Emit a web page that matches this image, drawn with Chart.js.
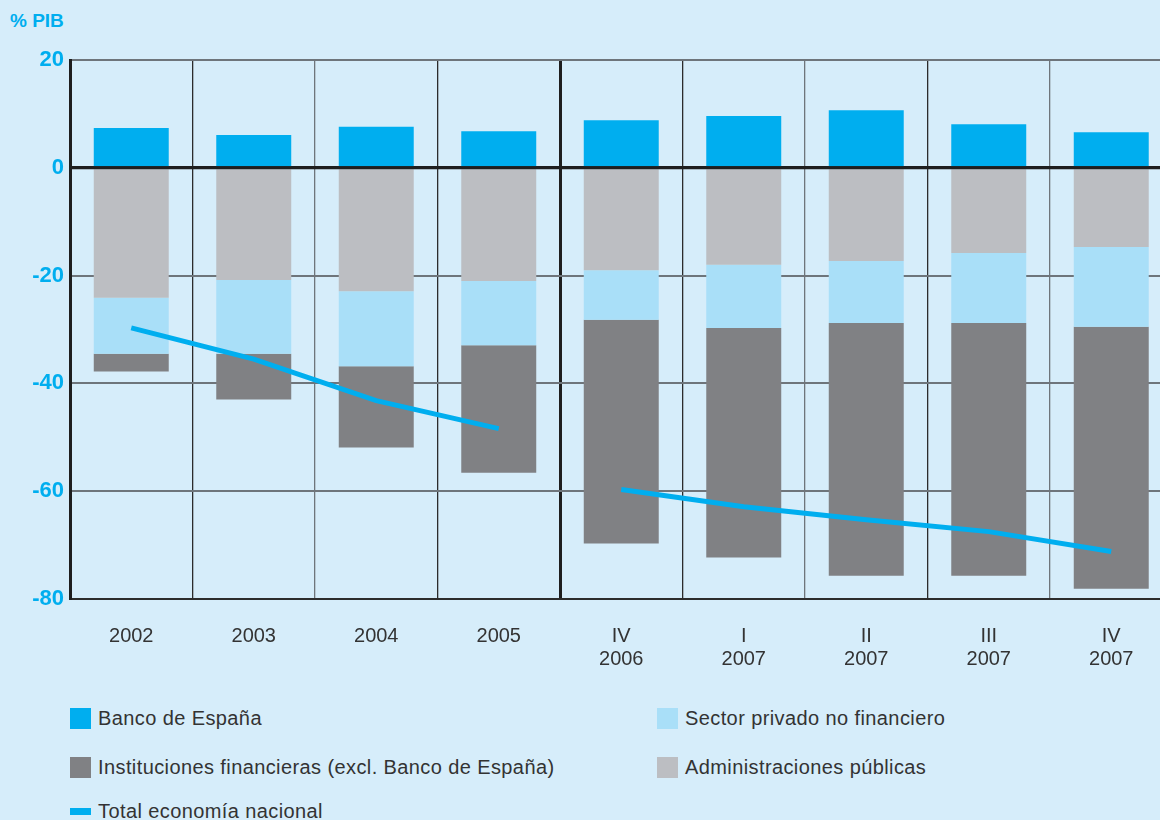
<!DOCTYPE html>
<html>
<head>
<meta charset="utf-8">
<script src="https://cdn.jsdelivr.net/npm/chart.js@4/dist/chart.umd.min.js"></script>
<style>
  html, body { margin: 0; padding: 0; }
  body {
    width: 1160px; height: 820px; overflow: hidden; position: relative;
    background: #d6edfa;
    font-family: "Liberation Sans", Arial, sans-serif;
  }
  #unit {
    position: absolute; left: 10px; top: 10px;
    font-weight: bold; font-size: 19px; color: #00aeef;
  }
  #chart { position: absolute; left: 0; top: 0; }
  .lg {
    position: absolute; display: flex; align-items: center;
    font-size: 20px; letter-spacing: 0.4px; color: #333; white-space: nowrap; height: 22px;
  }
  .sw { display: inline-block; width: 21px; height: 21px; margin-right: 7px; flex: none; }
  .sw.line { height: 7px; }
</style>
</head>
<body>
<div id="unit">% PIB</div>
<canvas id="chart" width="1180" height="680"></canvas>
<div id="legend"></div>
<script>
// Posición de inversión internacional por sectores (% PIB)
const categories = [['2002'], ['2003'], ['2004'], ['2005'], ['IV', '2006'], ['I', '2007'], ['II', '2007'], ['III', '2007'], ['IV', '2007']];
const bancoEspana      = [7.4, 6.1, 7.6, 6.8, 8.8, 9.6, 10.7, 8.1, 6.6];
const administraciones = [-24.1, -20.8, -22.9, -21.0, -19.0, -18.0, -17.3, -15.8, -14.7];
const sectorPrivado    = [-10.4, -13.7, -13.9, -11.9, -9.2, -11.7, -11.5, -13.0, -14.8];
const instituciones    = [-3.3, -8.5, -15.1, -23.7, -41.5, -42.6, -46.9, -46.9, -48.6];
const totalNacional    = [-29.7, -35.5, -43.2, -48.4, -59.7, -62.9, -65.3, -67.5, -71.2];
const yTicks = [20, 0, -20, -40, -60, -80];

const C_BANCO = '#00aeef';
const C_PRIV  = '#a9dff8';
const C_INST  = '#808184';
const C_ADM   = '#bcbec2';
const C_TOTAL = '#00aeef';
const DARK = '#1e1e1e';
const MID  = '#2c2c2c';
const GREY = '#6e757b';

// annual and quarterly periods are separated (no line joins them, thick rule between)
const isBreak = i => i > 0 && i < categories.length && categories[i - 1].length !== categories[i].length;

const zeroLine = {
  id: 'zeroLine',
  afterDatasetsDraw(chart) {
    const { ctx, chartArea, scales } = chart;
    const y = scales.y.getPixelForValue(0);
    ctx.save();
    ctx.strokeStyle = DARK;
    ctx.lineWidth = 3;
    ctx.beginPath();
    ctx.moveTo(chartArea.left, y);
    ctx.lineTo(chartArea.right, y);
    ctx.stroke();
    ctx.restore();
  }
};

const barCommon = { type: 'bar', stack: 'sectores', categoryPercentage: 1, barPercentage: 0.612, borderWidth: 0 };

const chart = new Chart(document.getElementById('chart'), {
  data: {
    labels: categories,
    datasets: [
      { ...barCommon, label: 'Banco de España', data: bancoEspana, backgroundColor: C_BANCO },
      { ...barCommon, label: 'Administraciones públicas', data: administraciones, backgroundColor: C_ADM },
      { ...barCommon, label: 'Sector privado no financiero', data: sectorPrivado, backgroundColor: C_PRIV },
      { ...barCommon, label: 'Instituciones financieras (excl. Banco de España)', data: instituciones, backgroundColor: C_INST },
      {
        type: 'line', stack: 'total', order: -1,
        label: 'Total economía nacional', data: totalNacional,
        borderColor: C_TOTAL, backgroundColor: C_TOTAL, borderWidth: 5,
        pointRadius: 0, tension: 0, borderCapStyle: 'butt',
        segment: {
          borderColor: ctx => isBreak(ctx.p1DataIndex) ? 'rgba(0,0,0,0)' : C_TOTAL
        }
      }
    ]
  },
  options: {
    responsive: false,
    animation: false,
    events: [],
    layout: { padding: { top: 60, right: 7.5, bottom: 0, left: 0 } },
    plugins: { legend: { display: false }, tooltip: { enabled: false } },
    scales: {
      x: {
        stacked: true,
        offset: true,
        grid: {
          offset: true,
          drawTicks: false,
          color: ctx => (ctx.index === 0 || isBreak(ctx.index)) ? DARK : (ctx.index % 2 === 0 ? GREY : MID),
          lineWidth: ctx => (ctx.index === 0 || isBreak(ctx.index)) ? 3 : 1.3
        },
        border: { display: true, color: MID, width: 2 },
        ticks: {
          autoSkip: false, maxRotation: 0, minRotation: 0,
          padding: 26, color: '#333',
          font: { family: '"Liberation Sans", Arial, sans-serif', size: 20, lineHeight: 1.15 }
        },
        afterFit: s => { s.height = 81; }
      },
      y: {
        stacked: true,
        min: -80, max: 20,
        grid: {
          drawTicks: false,
          color: ctx => ctx.tick.value === 0 ? DARK : (ctx.tick.value === -80 ? MID : GREY),
          lineWidth: ctx => ctx.tick.value === 0 ? 3 : 2
        },
        border: { display: true, color: DARK, width: 3 },
        ticks: {
          stepSize: 20, autoSkip: false, padding: 6, color: '#00aeef',
          font: { family: '"Liberation Sans", Arial, sans-serif', size: 22, weight: 'bold' },
          callback: v => yTicks.includes(v) ? String(v) : ''
        },
        afterFit: s => { s.width = 70; }
      }
    }
  },
  plugins: [zeroLine]
});

// legend laid out in two columns below the plot
const legendLayout = [
  { label: 'Banco de España', left: 70, top: 707 },
  { label: 'Sector privado no financiero', left: 657, top: 707 },
  { label: 'Instituciones financieras (excl. Banco de España)', left: 70, top: 756 },
  { label: 'Administraciones públicas', left: 657, top: 756 },
  { label: 'Total economía nacional', left: 70, top: 800 }
];
const legendEl = document.getElementById('legend');
legendLayout.forEach(item => {
  const ds = chart.data.datasets.find(d => d.label === item.label);
  const row = document.createElement('div');
  row.className = 'lg';
  row.style.left = item.left + 'px';
  row.style.top = item.top + 'px';
  const sw = document.createElement('span');
  sw.className = 'sw' + (ds.type === 'line' ? ' line' : '');
  sw.style.background = ds.type === 'line' ? ds.borderColor : ds.backgroundColor;
  const tx = document.createElement('span');
  tx.textContent = ds.label;
  row.appendChild(sw);
  row.appendChild(tx);
  legendEl.appendChild(row);
});
</script>
</body>
</html>
